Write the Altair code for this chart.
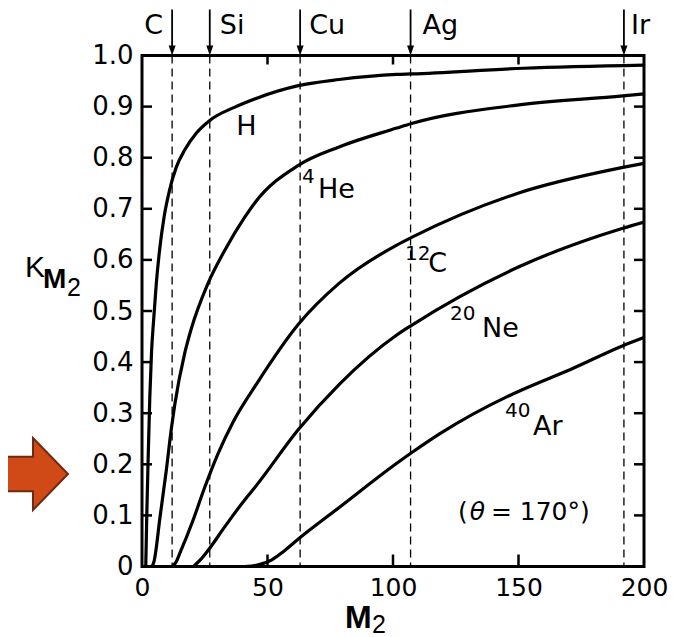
import altair as alt
import pandas as pd

# ---------------- data ----------------
series_names = ["H", "He", "C", "Ne", "Ar"]

H_M2 = [1.5, 1.9, 2.5, 3.1, 3.8, 4.6, 5.7, 7.0, 8.8, 11.0, 13.7, 17.0, 21.6, 27.0, 37.0, 46.0, 62.3, 78.5, 101.5, 107.4, 152.0, 200.0]
H_K = [0.0, 0.10, 0.22, 0.33, 0.42, 0.48, 0.554, 0.619, 0.684, 0.737, 0.782, 0.815, 0.848, 0.873, 0.899, 0.917, 0.941, 0.953, 0.963, 0.964, 0.975, 0.981]

He_M2 = [4.0, 4.8, 5.5, 7.0, 9.7, 11.7, 13.0, 17.0, 19.5, 26.3, 33.0, 41.0, 45.0, 62.3, 78.5, 101.5, 107.4, 149.5, 191.6, 200.0]
He_K = [0.0, 0.01, 0.03, 0.09, 0.189, 0.27, 0.315, 0.417, 0.463, 0.554, 0.619, 0.684, 0.712, 0.785, 0.821, 0.858, 0.867, 0.903, 0.921, 0.925]

C_M2 = [12.0, 13.5, 15.0, 20.3, 25.0, 30.3, 36.3, 46.0, 62.3, 78.5, 101.5, 107.4, 149.5, 191.6, 200.0]
C_K = [0.0, 0.008, 0.025, 0.09, 0.155, 0.221, 0.283, 0.36, 0.474, 0.554, 0.629, 0.644, 0.730, 0.781, 0.789]

Ne_M2 = [20.5, 23.6, 27.6, 32.3, 37.0, 42.0, 45.0, 62.3, 78.7, 101.5, 107.4, 149.5, 191.6, 200.0]
Ne_K = [0.0, 0.015, 0.04, 0.073, 0.105, 0.137, 0.155, 0.268, 0.357, 0.453, 0.472, 0.585, 0.662, 0.674]

Ar_M2 = [41.0, 46.0, 51.7, 56.5, 62.3, 78.7, 101.5, 107.8, 118.7, 145.3, 150.6, 171.8, 191.6, 200.0]
Ar_K = [0.0, 0.003, 0.013, 0.03, 0.054, 0.116, 0.202, 0.224, 0.26, 0.332, 0.344, 0.388, 0.432, 0.448]

# target elements marked on top
element_names = ["C", "Si", "Cu", "Ag", "Ir"]
element_mass = [12, 27, 63, 107, 192]

# curve labels (superscript mass number + element)
sup_texts = ["4", "12", "20", "40"]
sup_M2 = [63.7, 104.8, 122.7, 144.6]
sup_K = [0.75, 0.600, 0.482, 0.293]
name_texts = ["H", "He", "C", "Ne", "Ar"]
name_M2 = [37.5, 70.1, 114.0, 135.5, 155.8]
name_K = [0.844, 0.721, 0.576, 0.449, 0.257]

x_ticks = [0, 50, 100, 150, 200]
y_ticks = [0, 0.1, 0.2, 0.3, 0.4, 0.5, 0.6, 0.7, 0.8, 0.9, 1.0]
inner_x_ticks = [50, 100, 150]
inner_y_ticks = [0.1, 0.2, 0.3, 0.4, 0.5, 0.6, 0.7, 0.8, 0.9]

# ---------------- tables ----------------
rows = []
for name, ms, ks in zip(series_names, [H_M2, He_M2, C_M2, Ne_M2, Ar_M2], [H_K, He_K, C_K, Ne_K, Ar_K]):
    for m, k in zip(ms, ks):
        rows.append({"series": name, "M2": m, "K": k})
curves_df = pd.DataFrame(rows)
elements_df = pd.DataFrame({"name": element_names, "mass": element_mass})
sup_df = pd.DataFrame({"t": sup_texts, "M2": sup_M2, "K": sup_K})
name_df = pd.DataFrame({"t": name_texts, "M2": name_M2, "K": name_K})
xt_df = pd.DataFrame({"M2": inner_x_ticks})
yt_df = pd.DataFrame({"K": inner_y_ticks})

W, H = 502, 511
FONT = "DejaVu Sans"
x_scale = alt.Scale(domain=[0, 200], nice=False, zero=False)
y_scale = alt.Scale(domain=[0, 1], nice=False)

x_axis = alt.Axis(values=x_ticks, title=None, grid=False, domain=False, ticks=False, tickSize=0,
                  labelFont=FONT, labelFontSize=25, labelColor="black", labelPadding=9,
                  labelFlush=False, labelOverlap=False)
y_axis = alt.Axis(values=y_ticks, title=None, grid=False, domain=False, ticks=False, tickSize=0,
                  labelFont=FONT, labelFontSize=26, labelColor="black", labelPadding=9,
                  labelOverlap=False,
                  labelExpr="datum.value == 0 ? '0' : format(datum.value, '.1f')")

XE = alt.X("M2:Q", scale=x_scale, axis=x_axis)
YE = alt.Y("K:Q", scale=y_scale, axis=y_axis)

curves = alt.Chart(curves_df).mark_line(color="black", strokeWidth=3.2, interpolate="monotone").encode(
    x=XE, y=YE, detail="series:N",
)

XM = alt.X("mass:Q", scale=x_scale, axis=x_axis)

dashes = alt.Chart(elements_df).mark_rule(color="black", strokeWidth=1.3, strokeDash=[8, 5]).encode(
    x=XM, y=alt.value(0), y2=alt.value(H),
)

arrow_shafts = alt.Chart(elements_df).mark_rule(color="black", strokeWidth=1.8).encode(
    x=XM, y=alt.value(-46), y2=alt.value(-6),
)
arrow_heads = alt.Chart(elements_df).mark_point(
    shape="M-0.7,-1L0.7,-1L0,1Z", filled=True, color="black", opacity=1, size=100
).encode(x=XM, y=alt.value(-5))

elem_layers = []
elem_dx = {"C": -9, "Si": 10, "Cu": 9, "Ag": 12, "Ir": 7}
for nm in element_names:
    elem_layers.append(
        alt.Chart(elements_df[elements_df["name"] == nm]).mark_text(
            font=FONT, fontSize=27, color="black", baseline="alphabetic",
            align="right" if nm == "C" else "left", dx=elem_dx[nm]
        ).encode(x=XM, y=alt.value(-22), text="name:N")
    )

sup_labels = alt.Chart(sup_df).mark_text(font=FONT, fontSize=20, color="black", align="left",
                                         baseline="alphabetic").encode(x=XE, y=YE, text="t:N")
name_labels = alt.Chart(name_df).mark_text(font=FONT, fontSize=27, color="black", align="left",
                                           baseline="alphabetic").encode(x=XE, y=YE, text="t:N")

# (θ = 170°) annotation, θ in italics
theta_parts = ["(", "θ", "= 170°)"]
theta_M2 = [125.9, 130.6, 139.0]
theta_K = [0.091, 0.091, 0.091]
theta_style = ["normal", "italic", "normal"]
theta_layers = []
for t, m, k, st in zip(theta_parts, theta_M2, theta_K, theta_style):
    theta_layers.append(
        alt.Chart(pd.DataFrame({"t": [t], "M2": [m], "K": [k]})).mark_text(
            font=FONT, fontSize=25, fontStyle=st, color="black", align="left", baseline="alphabetic"
        ).encode(x=XE, y=YE, text="t:N")
    )

# inward ticks on all four sides
left_ticks = alt.Chart(yt_df).mark_rule(color="black", strokeWidth=2.5).encode(
    y=YE, x=alt.value(0), x2=alt.value(10))
right_ticks = alt.Chart(yt_df).mark_rule(color="black", strokeWidth=2.5).encode(
    y=YE, x=alt.value(W - 10), x2=alt.value(W))
bottom_ticks = alt.Chart(xt_df).mark_rule(color="black", strokeWidth=2.5).encode(
    x=XE, y=alt.value(H - 12), y2=alt.value(H))
top_ticks = alt.Chart(xt_df).mark_rule(color="black", strokeWidth=2.5).encode(
    x=XE, y=alt.value(0), y2=alt.value(9))

# axis titles built from pieces (subscripts)
def piece(txt, x, y, size, weight="normal"):
    return alt.Chart(pd.DataFrame({"t": [txt]})).mark_text(
        font="Liberation Sans", fontSize=size, fontWeight=weight, color="black",
        align="left", baseline="alphabetic"
    ).encode(text="t:N", x=alt.value(x), y=alt.value(y))

y_title = [piece("K", -117, 221.5, 30), piece("M", -99, 232, 28, "bold"), piece("2", -75, 240, 25)]
x_title = [piece("M", 203, 572, 32, "bold"), piece("2", 230, 577, 25)]

# decorative orange arrow at left
arrow_df = pd.DataFrame({"a": [1]})
orange_arrow = alt.Chart(arrow_df).mark_point(
    shape="M-1,-0.51L-0.03,-0.51L-0.03,-1.06L1,0L-0.03,1.06L-0.03,0.51L-1,0.51Z",
    filled=True, fill="#D04A18", stroke="#6E2A10", strokeWidth=2, opacity=1, size=4624
).encode(x=alt.value(-108), y=alt.value(418.5))

chart = alt.layer(
    dashes, curves, left_ticks, right_ticks, bottom_ticks, top_ticks,
    arrow_shafts, arrow_heads, *elem_layers, sup_labels, name_labels, *theta_layers,
    *y_title, *x_title, orange_arrow
).properties(
    width=W, height=H,
    background="white",
    autosize=alt.AutoSizeParams(type="none"),
    padding={"left": 134, "top": 47.5, "right": 39, "bottom": 74},
).configure_view(stroke="black", strokeWidth=3)

chart.save("out.html", embed_options={"renderer": "svg", "actions": False})
